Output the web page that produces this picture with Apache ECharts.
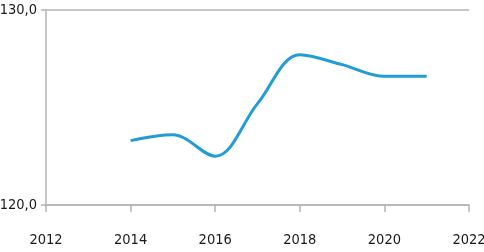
<!DOCTYPE html>
<html><head><meta charset="utf-8">
<script src="https://cdn.jsdelivr.net/npm/echarts@6/dist/echarts.min.js"></script>
<style>html,body{margin:0;padding:0;background:#fff}#c{width:484px;height:252px}</style>
</head><body><div id="c"></div>
<script>
const years = [2014, 2015, 2016, 2017, 2018, 2019, 2020, 2021];
const values = [123.3, 123.6, 122.5, 125.2, 127.7, 127.2, 126.6, 126.6];
const xTicks = [2012, 2014, 2016, 2018, 2020, 2022];
const yTicks = [120, 130];

const font = '"Liberation Sans Narrow", "DejaVu Sans Condensed", sans-serif';
const chart = echarts.init(document.getElementById('c'), null, {renderer: 'canvas'});
chart.setOption({
  animation: false,
  grid: {left: 46, right: 15, top: 10, bottom: 47, containLabel: false, outerBoundsMode: 'none'},
  xAxis: {
    type: 'value', min: xTicks[0], max: xTicks[xTicks.length - 1], interval: 2,
    axisLine: {show: true, lineStyle: {color: '#b4b4b4', width: 1.5}},
    axisTick: {show: true, length: 7, lineStyle: {color: '#b4b4b4', width: 1.5}},
    splitLine: {show: false},
    axisLabel: {margin: 28, fontFamily: font, fontSize: 14.5, color: '#1a1a1a',
      formatter: v => String(v)}
  },
  yAxis: {
    type: 'value', min: yTicks[0], max: yTicks[yTicks.length - 1], interval: 10,
    axisLine: {show: true, lineStyle: {color: '#b4b4b4', width: 1.5}},
    axisTick: {show: true, length: 5, lineStyle: {color: '#b4b4b4', width: 1.5}},
    splitLine: {show: true, lineStyle: {color: '#b4b4b4', width: 1.5}},
    axisLabel: {margin: 9, fontFamily: font, fontSize: 14.5, color: '#1a1a1a',
      formatter: v => v.toFixed(1).replace('.', ',')}
  },
  series: [{
    type: 'line', smooth: 0.35, showSymbol: false,
    data: years.map((y, i) => [y, values[i]]),
    lineStyle: {color: '#229cd8', width: 3}
  }]
});
</script></body></html>
